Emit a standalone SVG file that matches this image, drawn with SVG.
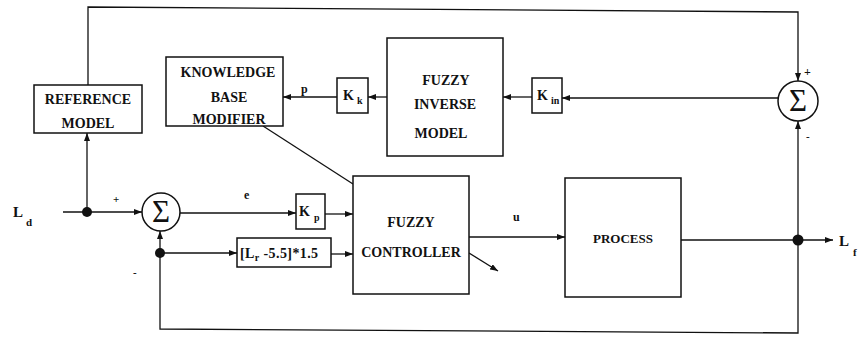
<svg xmlns="http://www.w3.org/2000/svg" width="865" height="338" viewBox="0 0 865 338">
<style>
.box{fill:#fff;stroke:#111;stroke-width:1.5}
.ln{fill:none;stroke:#111;stroke-width:1.3}
.t{font-family:"Liberation Serif","Times New Roman",serif;font-weight:bold;font-size:14px;fill:#111;text-anchor:middle}
.s{font-family:"Liberation Serif","Times New Roman",serif;font-weight:bold;font-size:14px;fill:#111}
.sub{font-size:10px}
.sig{font-family:"Liberation Serif","Times New Roman",serif;font-size:31px;fill:#111;text-anchor:middle}
.dot{fill:#111}
</style>
<defs>
<marker id="a" markerUnits="userSpaceOnUse" markerWidth="8" markerHeight="6" refX="8" refY="3" orient="auto">
<path d="M0,0 L8,3 L0,6 z" fill="#111"/>
</marker>
</defs>
<g id="connectors">
<polyline class="ln" points="88,85 88,7 798,12 798,81" marker-end="url(#a)"/>
<line class="ln" x1="63" y1="212" x2="142" y2="212" marker-end="url(#a)"/>
<line class="ln" x1="87" y1="212" x2="87" y2="133" marker-end="url(#a)"/>
<line class="ln" x1="180" y1="213" x2="296" y2="213" marker-end="url(#a)"/>
<line class="ln" x1="325" y1="214" x2="353" y2="214" marker-end="url(#a)"/>
<line class="ln" x1="160" y1="253" x2="160" y2="231" marker-end="url(#a)"/>
<line class="ln" x1="160" y1="253" x2="237" y2="253" marker-end="url(#a)"/>
<line class="ln" x1="331" y1="254" x2="353" y2="254" marker-end="url(#a)"/>
<polyline class="ln" points="160,253 160,329 798,333 798,240"/>
<line class="ln" x1="469" y1="237" x2="565" y2="237" marker-end="url(#a)"/>
<line class="ln" x1="681" y1="240" x2="798" y2="240"/>
<line class="ln" x1="798" y1="240" x2="833" y2="240" marker-end="url(#a)"/>
<line class="ln" x1="798" y1="240" x2="798" y2="121" marker-end="url(#a)"/>
<line class="ln" x1="778" y1="98" x2="562" y2="98" marker-end="url(#a)"/>
<line class="ln" x1="532" y1="97" x2="503" y2="97" marker-end="url(#a)"/>
<line class="ln" x1="387" y1="97" x2="368" y2="97" marker-end="url(#a)"/>
<line class="ln" x1="337" y1="97" x2="283" y2="97" marker-end="url(#a)"/>
<line class="ln" x1="263" y1="126" x2="353" y2="184"/>
<line class="ln" x1="469" y1="253" x2="498" y2="271" marker-end="url(#a)"/>
<circle class="dot" cx="87" cy="212" r="5"/>
<circle class="dot" cx="160" cy="253" r="5"/>
<circle class="dot" cx="798" cy="240" r="5.5"/>
</g>
<g id="reference-model">
<rect class="box" x="34" y="85" width="108" height="48"/>
<text class="t" x="88" y="104">REFERENCE</text>
<text class="t" x="88" y="128">MODEL</text>
</g>
<g id="knowledge-base-modifier">
<rect class="box" x="166" y="57" width="117" height="69"/>
<text class="t" x="228" y="77">KNOWLEDGE</text>
<text class="t" x="229" y="102">BASE</text>
<text class="t" x="229" y="124">MODIFIER</text>
</g>
<g id="kk">
<rect class="box" x="337" y="78" width="31" height="35"/>
<text class="s" x="343" y="100">K<tspan class="sub" dx="3" dy="4">k</tspan></text>
</g>
<g id="fuzzy-inverse-model">
<rect class="box" x="387" y="38" width="116" height="118"/>
<text class="t" x="446" y="85">FUZZY</text>
<text class="t" x="445" y="109">INVERSE</text>
<text class="t" x="441" y="138">MODEL</text>
</g>
<g id="kin">
<rect class="box" x="532" y="78" width="30" height="35"/>
<text class="s" x="537" y="100">K<tspan class="sub" dx="3" dy="4">in</tspan></text>
</g>
<g id="sum-right">
<circle class="box" cx="798" cy="101" r="20"/>
<text class="sig" x="798" y="111">Σ</text>
</g>
<g id="sum-left">
<circle class="box" cx="161" cy="212" r="19"/>
<text class="sig" x="161" y="222">Σ</text>
</g>
<g id="kp">
<rect class="box" x="296" y="194" width="29" height="35"/>
<text class="s" x="299" y="216">K<tspan class="sub" dx="4" dy="5">p</tspan></text>
</g>
<g id="lr-gain">
<rect class="box" x="237" y="238" width="94" height="29"/>
<text class="s" x="240" y="258" style="letter-spacing:0.4px">[L<tspan class="sub" dy="3">r</tspan><tspan dy="-3"> -5.5]*1.5</tspan></text>
</g>
<g id="fuzzy-controller">
<rect class="box" x="353" y="176" width="116" height="118"/>
<text class="t" x="411" y="227">FUZZY</text>
<text class="t" x="411" y="257">CONTROLLER</text>
</g>
<g id="process">
<rect class="box" x="565" y="178" width="116" height="119"/>
<text class="t" x="623" y="243" style="font-size:13px">PROCESS</text>
</g>
<g id="labels">
<text class="s" x="13" y="217" style="font-size:15px">L<tspan class="sub" style="font-size:11px" dx="3" dy="9">d</tspan></text>
<text class="s" x="839" y="246" style="font-size:15px">L<tspan class="sub" style="font-size:11px" dx="4" dy="10">f</tspan></text>
<text class="s" x="113" y="203" style="font-size:11px">+</text>
<text class="s" x="133" y="276" style="font-size:11px">-</text>
<text class="s" x="244" y="199" style="font-size:12px">e</text>
<text class="s" x="513" y="221" style="font-size:12px">u</text>
<text class="s" x="301" y="93" style="font-size:12px">p</text>
<text class="s" x="804" y="76" style="font-size:12px">+</text>
<text class="s" x="806" y="140" style="font-size:11px">-</text>
</g>
</svg>
